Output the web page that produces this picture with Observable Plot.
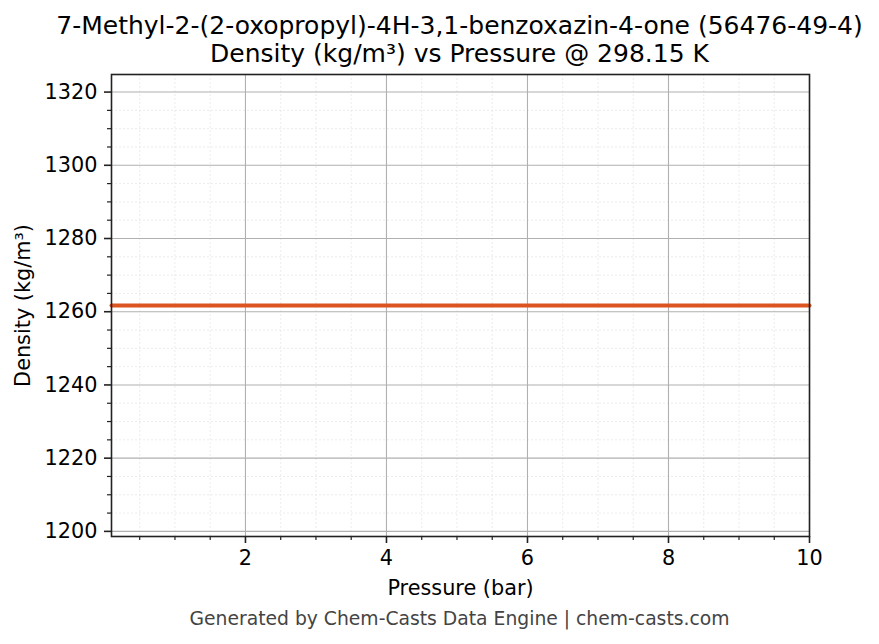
<!DOCTYPE html>
<html>
<head>
<meta charset="utf-8">
<script src="https://cdn.jsdelivr.net/npm/d3@7"></script>
<script src="https://cdn.jsdelivr.net/npm/@observablehq/plot@0.6"></script>
<style>
  html, body { margin: 0; padding: 0; background: #fff; }
  body { width: 879px; height: 644px; overflow: hidden; font-family: "DejaVu Sans", sans-serif; }
  #title { box-sizing: border-box; height: 66px; padding-top: 12px; text-align: center; font-size: 25px; line-height: 28px; color: #000; white-space: nowrap; position: relative; left: 20px; width: 879px; }
  #caption { text-align: center; font-size: 18.75px; color: #444; height: 40px; line-height: 30px; white-space: nowrap; position: relative; left: 20px; width: 879px; }
  svg { display: block; }
</style>
</head>
<body>
<div id="title">7-Methyl-2-(2-oxopropyl)-4H-3,1-benzoxazin-4-one (56476-49-4)<br>Density (kg/m³) vs Pressure @ 298.15 K</div>
<div id="chart"></div>
<div id="caption">Generated by Chem-Casts Data Engine | chem-casts.com</div>
<script>
const pressure = [0.1, 1, 2, 3, 4, 5, 6, 7, 8, 9, 10];
const density = [1261.7, 1261.7, 1261.7, 1261.7, 1261.7, 1261.7, 1261.7, 1261.7, 1261.7, 1261.7, 1261.7];
const xMajorTicks = [2, 4, 6, 8, 10];
const xMinorTicks = [0.5, 1, 1.5, 2.5, 3, 3.5, 4.5, 5, 5.5, 6.5, 7, 7.5, 8.5, 9, 9.5];
const yMajorTicks = [1200, 1220, 1240, 1260, 1280, 1300, 1320];
const yMinorTicks = [1205, 1210, 1215, 1225, 1230, 1235, 1245, 1250, 1255, 1265, 1270, 1275, 1285, 1290, 1295, 1305, 1310, 1315];
const xDomain = [0.1, 10];
const yDomain = [1198.6, 1324.8];

const data = pressure.map((p, i) => ({p, d: density[i]}));
const fmt = d => String(d);

const chart = Plot.plot({
  width: 879,
  height: 538,
  marginLeft: 111,
  marginRight: 70,
  marginTop: 8,
  marginBottom: 68,
  style: {fontFamily: "DejaVu Sans", fontSize: "20.8px", color: "#000", background: "#fff"},
  x: {domain: xDomain},
  y: {domain: yDomain},
  marks: [
    Plot.ruleX(xMinorTicks, {stroke: "#e4e4e4", strokeWidth: 0.7, strokeDasharray: "2,2"}),
    Plot.ruleY(yMinorTicks, {stroke: "#e4e4e4", strokeWidth: 0.7, strokeDasharray: "2,2"}),
    Plot.ruleX(xMajorTicks, {stroke: "#b0b0b0", strokeWidth: 1.1}),
    Plot.ruleY(yMajorTicks, {stroke: "#b0b0b0", strokeWidth: 1.1}),
    Plot.line(data, {x: "p", y: "d", stroke: "#dc5520", strokeWidth: 4}),
    Plot.axisX(xMinorTicks, {tickSize: 4, text: null, label: null, stroke: "#222", strokeWidth: 1.2}),
    Plot.axisY(yMinorTicks, {tickSize: 4, text: null, label: null, stroke: "#222", strokeWidth: 1.2}),
    Plot.axisX(xMajorTicks, {tickSize: 7, tickPadding: 7, tickFormat: fmt, label: null, stroke: "#222", strokeWidth: 1.6, fontSize: 20.8, fill: "#000"}),
    Plot.axisY(yMajorTicks, {tickSize: 7, tickPadding: 7, tickFormat: fmt, label: null, stroke: "#222", strokeWidth: 1.6, fontSize: 20.8, fill: "#000"}),
    Plot.frame({stroke: "#222", strokeWidth: 1.6}),
    Plot.text(["Pressure (bar)"], {frameAnchor: "bottom", lineAnchor: "middle", textAnchor: "middle", dy: 52, fontSize: 20.8, fill: "#000"}),
    Plot.text(["Density (kg/m³)"], {frameAnchor: "left", lineAnchor: "middle", textAnchor: "middle", dx: -88, rotate: -90, fontSize: 20.8, fill: "#000"})
  ]
});
document.getElementById("chart").appendChild(chart);
</script>
</body>
</html>
